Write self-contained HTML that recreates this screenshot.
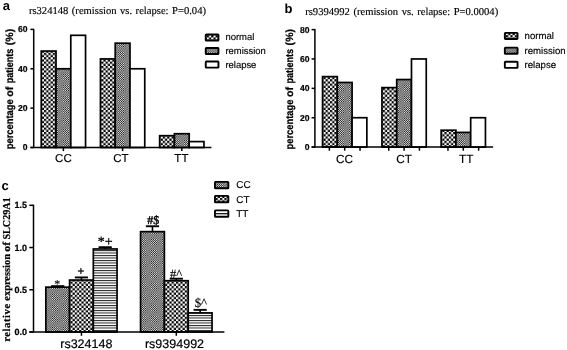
<!DOCTYPE html>
<html lang="en"><head><meta charset="utf-8"><title>Figure</title>
<style>
html,body{margin:0;padding:0;background:#fff;}
body{width:567px;height:350px;overflow:hidden;}
svg{display:block;will-change:transform;}
text{text-rendering:geometricPrecision;}
.sans{font-family:"Liberation Sans",Arial,Helvetica,sans-serif;}
.serif{font-family:"Liberation Serif","Times New Roman",Times,serif;}
.b{font-weight:bold;}
</style></head><body>
<svg width="567" height="350" viewBox="0 0 567 350">
<defs>
<pattern id="chk" width="4.4" height="4.4" patternUnits="userSpaceOnUse"><rect width="4.4" height="4.4" fill="#fff"/><rect x="0" y="0" width="2.2" height="2.2" fill="#000"/><rect x="2.2" y="2.2" width="2.2" height="2.2" fill="#000"/></pattern>
<pattern id="fine" width="2.2" height="2.2" patternUnits="userSpaceOnUse"><rect width="2.2" height="2.2" fill="#fff"/><rect x="0" y="0" width="1.1" height="1.1" fill="#000"/><rect x="1.1" y="1.1" width="1.1" height="1.1" fill="#000"/></pattern>
<pattern id="hl" width="4" height="2.5" patternUnits="userSpaceOnUse"><rect width="4" height="2.5" fill="#fff"/><rect x="0" y="0" width="4" height="1" fill="#222"/></pattern>
</defs>
<rect width="567" height="350" fill="#fff"/>
<text x="2.8" y="9.6" class="sans b" font-size="13" text-anchor="start" fill="#000">a</text>
<text x="28.9" y="13.8" class="serif" font-size="10.6" text-anchor="start" fill="#000" word-spacing="0.85" stroke="#000" stroke-width="0.15">rs324148 (remission vs. relapse: P=0.04)</text>
<rect x="41.25" y="51.05" width="14.77" height="96.45" fill="url(#chk)" stroke="#000" stroke-width="1.7"/>
<rect x="56.02" y="68.77" width="14.77" height="78.73" fill="url(#fine)" stroke="#000" stroke-width="1.7"/>
<rect x="70.78" y="35.31" width="14.77" height="112.19" fill="#fff" stroke="#000" stroke-width="1.7"/>
<rect x="100.45" y="58.92" width="14.77" height="88.58" fill="url(#chk)" stroke="#000" stroke-width="1.7"/>
<rect x="115.22" y="43.18" width="14.77" height="104.32" fill="url(#fine)" stroke="#000" stroke-width="1.7"/>
<rect x="129.98" y="68.77" width="14.77" height="78.73" fill="#fff" stroke="#000" stroke-width="1.7"/>
<rect x="159.65" y="135.69" width="14.77" height="11.81" fill="url(#chk)" stroke="#000" stroke-width="1.7"/>
<rect x="174.42" y="133.72" width="14.77" height="13.78" fill="url(#fine)" stroke="#000" stroke-width="1.7"/>
<rect x="189.18" y="141.59" width="14.77" height="5.91" fill="#fff" stroke="#000" stroke-width="1.7"/>
<line x1="33.7" y1="28.8" x2="33.7" y2="148.1" stroke="#000" stroke-width="1.5"/>
<line x1="30.4" y1="147.5" x2="211.4" y2="147.5" stroke="#000" stroke-width="1.5"/>
<line x1="30.4" y1="147.5" x2="33.7" y2="147.5" stroke="#000" stroke-width="1.5"/>
<text x="27.6" y="150.4" class="sans b" font-size="8.6" text-anchor="end" fill="#000" stroke="#000" stroke-width="0.2">0</text>
<line x1="30.4" y1="108.13" x2="33.7" y2="108.13" stroke="#000" stroke-width="1.5"/>
<text x="27.6" y="111.03" class="sans b" font-size="8.6" text-anchor="end" fill="#000" stroke="#000" stroke-width="0.2">20</text>
<line x1="30.4" y1="68.77" x2="33.7" y2="68.77" stroke="#000" stroke-width="1.5"/>
<text x="27.6" y="71.67" class="sans b" font-size="8.6" text-anchor="end" fill="#000" stroke="#000" stroke-width="0.2">40</text>
<line x1="30.4" y1="29.4" x2="33.7" y2="29.4" stroke="#000" stroke-width="1.5"/>
<text x="27.6" y="32.3" class="sans b" font-size="8.6" text-anchor="end" fill="#000" stroke="#000" stroke-width="0.2">60</text>
<line x1="63.4" y1="147.5" x2="63.4" y2="151.1" stroke="#000" stroke-width="1.5"/>
<text x="63.4" y="162.2" class="sans" font-size="11.5" text-anchor="middle" fill="#000" stroke="#000" stroke-width="0.15">CC</text>
<line x1="122.6" y1="147.5" x2="122.6" y2="151.1" stroke="#000" stroke-width="1.5"/>
<text x="120.9" y="162.2" class="sans" font-size="11.5" text-anchor="middle" fill="#000" stroke="#000" stroke-width="0.15">CT</text>
<line x1="181.8" y1="147.5" x2="181.8" y2="151.1" stroke="#000" stroke-width="1.5"/>
<text x="181.4" y="162.2" class="sans" font-size="11.5" text-anchor="middle" fill="#000" stroke="#000" stroke-width="0.15">TT</text>
<text transform="translate(13.4 149) rotate(-90)" class="sans b" font-size="10.5" fill="#000" stroke="#000" stroke-width="0.25"><tspan x="-0.3" textLength="50" lengthAdjust="spacingAndGlyphs">percentage</tspan> <tspan x="52.3" textLength="10" lengthAdjust="spacingAndGlyphs">of</tspan> <tspan x="65.7" textLength="34.6" lengthAdjust="spacingAndGlyphs">patients</tspan> <tspan x="103.7" textLength="16.6" lengthAdjust="spacing">(%)</tspan></text>
<rect x="205.75" y="34.45" width="12.7" height="6.1" rx="0.6" fill="url(#chk)" stroke="#000" stroke-width="1.9"/>
<text x="225.4" y="40.4" class="sans" font-size="9.45" text-anchor="start" fill="#000" stroke="#000" stroke-width="0.15">normal</text>
<rect x="205.75" y="47.95" width="12.7" height="6.1" rx="0.6" fill="url(#fine)" stroke="#000" stroke-width="1.9"/>
<text x="225.4" y="54" class="sans" font-size="9.45" text-anchor="start" fill="#000" stroke="#000" stroke-width="0.15">remission</text>
<rect x="205.75" y="61.55" width="12.7" height="6.1" rx="0.6" fill="#fff" stroke="#000" stroke-width="1.9"/>
<text x="225.4" y="67.6" class="sans" font-size="9.45" text-anchor="start" fill="#000" stroke="#000" stroke-width="0.15">relapse</text>
<text x="284.6" y="12.6" class="sans b" font-size="13" text-anchor="start" fill="#000">b</text>
<text x="305.2" y="15.4" class="serif" font-size="10.6" text-anchor="start" fill="#000" word-spacing="0.85" stroke="#000" stroke-width="0.15">rs9394992 (remission vs. relapse: P=0.0004)</text>
<rect x="322.55" y="76.6" width="14.77" height="70.5" fill="url(#chk)" stroke="#000" stroke-width="1.7"/>
<rect x="337.32" y="82.47" width="14.77" height="64.62" fill="url(#fine)" stroke="#000" stroke-width="1.7"/>
<rect x="352.08" y="117.72" width="14.77" height="29.38" fill="#fff" stroke="#000" stroke-width="1.7"/>
<rect x="381.95" y="87.62" width="14.77" height="59.48" fill="url(#chk)" stroke="#000" stroke-width="1.7"/>
<rect x="396.72" y="79.54" width="14.77" height="67.56" fill="url(#fine)" stroke="#000" stroke-width="1.7"/>
<rect x="411.48" y="58.97" width="14.77" height="88.12" fill="#fff" stroke="#000" stroke-width="1.7"/>
<rect x="441.15" y="130.21" width="14.77" height="16.89" fill="url(#chk)" stroke="#000" stroke-width="1.7"/>
<rect x="455.92" y="132.41" width="14.77" height="14.69" fill="url(#fine)" stroke="#000" stroke-width="1.7"/>
<rect x="470.68" y="117.72" width="14.77" height="29.38" fill="#fff" stroke="#000" stroke-width="1.7"/>
<line x1="314.9" y1="29" x2="314.9" y2="147.7" stroke="#000" stroke-width="1.5"/>
<line x1="311.6" y1="147.1" x2="493.1" y2="147.1" stroke="#000" stroke-width="1.5"/>
<line x1="311.6" y1="147.1" x2="314.9" y2="147.1" stroke="#000" stroke-width="1.5"/>
<text x="309.5" y="150" class="sans b" font-size="8.6" text-anchor="end" fill="#000" stroke="#000" stroke-width="0.2">0</text>
<line x1="311.6" y1="117.72" x2="314.9" y2="117.72" stroke="#000" stroke-width="1.5"/>
<text x="309.5" y="120.62" class="sans b" font-size="8.6" text-anchor="end" fill="#000" stroke="#000" stroke-width="0.2">20</text>
<line x1="311.6" y1="88.35" x2="314.9" y2="88.35" stroke="#000" stroke-width="1.5"/>
<text x="309.5" y="91.25" class="sans b" font-size="8.6" text-anchor="end" fill="#000" stroke="#000" stroke-width="0.2">40</text>
<line x1="311.6" y1="58.97" x2="314.9" y2="58.97" stroke="#000" stroke-width="1.5"/>
<text x="309.5" y="61.87" class="sans b" font-size="8.6" text-anchor="end" fill="#000" stroke="#000" stroke-width="0.2">60</text>
<line x1="311.6" y1="29.6" x2="314.9" y2="29.6" stroke="#000" stroke-width="1.5"/>
<text x="309.5" y="32.5" class="sans b" font-size="8.6" text-anchor="end" fill="#000" stroke="#000" stroke-width="0.2">80</text>
<line x1="329.37" y1="147.1" x2="329.37" y2="150.7" stroke="#000" stroke-width="1.5"/>
<line x1="344.7" y1="147.1" x2="344.7" y2="150.7" stroke="#000" stroke-width="1.5"/>
<line x1="360.03" y1="147.1" x2="360.03" y2="150.7" stroke="#000" stroke-width="1.5"/>
<text x="344.6" y="162.6" class="sans" font-size="11.8" text-anchor="middle" fill="#000" stroke="#000" stroke-width="0.15">CC</text>
<line x1="388.77" y1="147.1" x2="388.77" y2="150.7" stroke="#000" stroke-width="1.5"/>
<line x1="404.1" y1="147.1" x2="404.1" y2="150.7" stroke="#000" stroke-width="1.5"/>
<line x1="419.43" y1="147.1" x2="419.43" y2="150.7" stroke="#000" stroke-width="1.5"/>
<text x="404.2" y="162.6" class="sans" font-size="11.8" text-anchor="middle" fill="#000" stroke="#000" stroke-width="0.15">CT</text>
<line x1="447.97" y1="147.1" x2="447.97" y2="150.7" stroke="#000" stroke-width="1.5"/>
<line x1="463.3" y1="147.1" x2="463.3" y2="150.7" stroke="#000" stroke-width="1.5"/>
<line x1="478.63" y1="147.1" x2="478.63" y2="150.7" stroke="#000" stroke-width="1.5"/>
<text x="466.2" y="162.6" class="sans" font-size="11.8" text-anchor="middle" fill="#000" stroke="#000" stroke-width="0.15">TT</text>
<text transform="translate(293.3 149.2) rotate(-90)" class="sans b" font-size="10.5" fill="#000" stroke="#000" stroke-width="0.25"><tspan x="-0.3" textLength="50" lengthAdjust="spacingAndGlyphs">percentage</tspan> <tspan x="52.3" textLength="10" lengthAdjust="spacingAndGlyphs">of</tspan> <tspan x="65.7" textLength="34.6" lengthAdjust="spacingAndGlyphs">patients</tspan> <tspan x="103.7" textLength="16.6" lengthAdjust="spacing">(%)</tspan></text>
<rect x="504.85" y="32.85" width="12.7" height="6.1" rx="0.6" fill="url(#chk)" stroke="#000" stroke-width="1.9"/>
<text x="524.6" y="39" class="sans" font-size="9.6" text-anchor="start" fill="#000" stroke="#000" stroke-width="0.15">normal</text>
<rect x="504.85" y="47.65" width="12.7" height="6.1" rx="0.6" fill="url(#fine)" stroke="#000" stroke-width="1.9"/>
<text x="524.6" y="53.6" class="sans" font-size="9.6" text-anchor="start" fill="#000" stroke="#000" stroke-width="0.15">remission</text>
<rect x="504.85" y="61.75" width="12.7" height="6.1" rx="0.6" fill="#fff" stroke="#000" stroke-width="1.9"/>
<text x="524.6" y="67.6" class="sans" font-size="9.6" text-anchor="start" fill="#000" stroke="#000" stroke-width="0.15">relapse</text>
<text x="1.4" y="189.7" class="sans b" font-size="13" text-anchor="start" fill="#000">c</text>
<line x1="57.72" y1="287.15" x2="57.72" y2="286.13" stroke="#000" stroke-width="1.6"/>
<line x1="51.12" y1="286.13" x2="64.32" y2="286.13" stroke="#000" stroke-width="1.9"/>
<rect x="45.85" y="287.15" width="23.73" height="44.85" fill="url(#fine)" stroke="#000" stroke-width="1.7"/>
<text x="57.3" y="288.2" class="serif" font-size="12" text-anchor="middle" fill="#000" stroke="#000" stroke-width="0.15">*</text>
<line x1="81.45" y1="280.05" x2="81.45" y2="277.43" stroke="#000" stroke-width="1.6"/>
<line x1="74.85" y1="277.43" x2="88.05" y2="277.43" stroke="#000" stroke-width="1.9"/>
<rect x="69.58" y="280.05" width="23.73" height="51.95" fill="url(#chk)" stroke="#000" stroke-width="1.7"/>
<text x="81" y="275.2" class="serif" font-size="12" text-anchor="middle" fill="#000" stroke="#000" stroke-width="0.4">+</text>
<line x1="105.18" y1="248.97" x2="105.18" y2="247.2" stroke="#000" stroke-width="1.6"/>
<line x1="98.58" y1="247.2" x2="111.78" y2="247.2" stroke="#000" stroke-width="1.9"/>
<rect x="93.32" y="248.97" width="23.73" height="83.03" fill="url(#hl)" stroke="#000" stroke-width="1.7"/>
<text x="105.2" y="246" class="serif" font-size="14" text-anchor="middle" fill="#000" stroke="#000" stroke-width="0.3">*+</text>
<line x1="152.47" y1="231.65" x2="152.47" y2="226.25" stroke="#000" stroke-width="1.6"/>
<line x1="145.87" y1="226.25" x2="159.07" y2="226.25" stroke="#000" stroke-width="1.9"/>
<rect x="140.55" y="231.65" width="23.83" height="100.35" fill="url(#fine)" stroke="#000" stroke-width="1.7"/>
<text x="153.3" y="224" class="serif" font-size="12" text-anchor="middle" fill="#000" stroke="#000" stroke-width="0.4">#$</text>
<line x1="176.3" y1="280.73" x2="176.3" y2="278.7" stroke="#000" stroke-width="1.6"/>
<line x1="169.7" y1="278.7" x2="182.9" y2="278.7" stroke="#000" stroke-width="1.9"/>
<rect x="164.38" y="280.73" width="23.83" height="51.27" fill="url(#chk)" stroke="#000" stroke-width="1.7"/>
<text x="176" y="277.9" class="serif" font-size="12.5" text-anchor="middle" fill="#000" stroke="#000" stroke-width="0.15">#^</text>
<line x1="200.13" y1="312.91" x2="200.13" y2="309.87" stroke="#000" stroke-width="1.6"/>
<line x1="193.53" y1="309.87" x2="206.73" y2="309.87" stroke="#000" stroke-width="1.9"/>
<rect x="188.22" y="312.91" width="23.83" height="19.09" fill="url(#hl)" stroke="#000" stroke-width="1.7"/>
<text x="200.9" y="306.9" class="serif" font-size="12.9" text-anchor="middle" fill="#000" stroke="#000" stroke-width="0.15">$^</text>
<line x1="33.5" y1="204.7" x2="33.5" y2="332.6" stroke="#000" stroke-width="1.5"/>
<line x1="29.3" y1="332" x2="224.4" y2="332" stroke="#000" stroke-width="1.5"/>
<line x1="29.3" y1="332" x2="33.5" y2="332" stroke="#000" stroke-width="1.5"/>
<text x="26.9" y="335.1" class="sans b" font-size="9" text-anchor="end" fill="#000" stroke="#000" stroke-width="0.2">0.0</text>
<line x1="29.3" y1="289.77" x2="33.5" y2="289.77" stroke="#000" stroke-width="1.5"/>
<text x="26.9" y="292.87" class="sans b" font-size="9" text-anchor="end" fill="#000" stroke="#000" stroke-width="0.2">0.5</text>
<line x1="29.3" y1="247.53" x2="33.5" y2="247.53" stroke="#000" stroke-width="1.5"/>
<text x="26.9" y="250.63" class="sans b" font-size="9" text-anchor="end" fill="#000" stroke="#000" stroke-width="0.2">1.0</text>
<line x1="29.3" y1="205.3" x2="33.5" y2="205.3" stroke="#000" stroke-width="1.5"/>
<text x="26.9" y="208.4" class="sans b" font-size="9" text-anchor="end" fill="#000" stroke="#000" stroke-width="0.2">1.5</text>
<line x1="81.45" y1="332" x2="81.45" y2="335.8" stroke="#000" stroke-width="1.5"/>
<text x="86.3" y="348.1" class="sans" font-size="12.5" text-anchor="middle" fill="#000" stroke="#000" stroke-width="0.2">rs324148</text>
<line x1="176.3" y1="332" x2="176.3" y2="335.8" stroke="#000" stroke-width="1.5"/>
<text x="174.5" y="348.1" class="sans" font-size="12.5" text-anchor="middle" fill="#000" stroke="#000" stroke-width="0.2">rs9394992</text>
<text transform="translate(9.6 341.5) rotate(-90)" class="serif b" font-size="10.6" fill="#000" stroke="#000" stroke-width="0.2"><tspan x="-0.3" textLength="38" lengthAdjust="spacing">relative</tspan> <tspan x="40.8" textLength="46.7" lengthAdjust="spacingAndGlyphs">expression</tspan> <tspan x="89.8" textLength="9.9" lengthAdjust="spacingAndGlyphs">of</tspan> <tspan x="101.9" textLength="42.3" lengthAdjust="spacingAndGlyphs">SLC29A1</tspan></text>
<rect x="214.95" y="181.85" width="13.4" height="6.4" rx="0.6" fill="url(#fine)" stroke="#000" stroke-width="1.9"/>
<text x="236.2" y="188.4" class="sans" font-size="10" text-anchor="start" fill="#000" stroke="#000" stroke-width="0.15">CC</text>
<rect x="214.95" y="195.85" width="13.4" height="6.4" rx="0.6" fill="url(#chk)" stroke="#000" stroke-width="1.9"/>
<text x="236.2" y="202.7" class="sans" font-size="10" text-anchor="start" fill="#000" stroke="#000" stroke-width="0.15">CT</text>
<rect x="214.95" y="210.35" width="13.4" height="6.4" rx="0.6" fill="#fff" stroke="#000" stroke-width="1.9"/>
<text x="236.2" y="217" class="sans" font-size="10" text-anchor="start" fill="#000" stroke="#000" stroke-width="0.15">TT</text>
<line x1="215.5" y1="213.7" x2="228.5" y2="213.7" stroke="#000" stroke-width="1.2"/>
</svg>
</body></html>
